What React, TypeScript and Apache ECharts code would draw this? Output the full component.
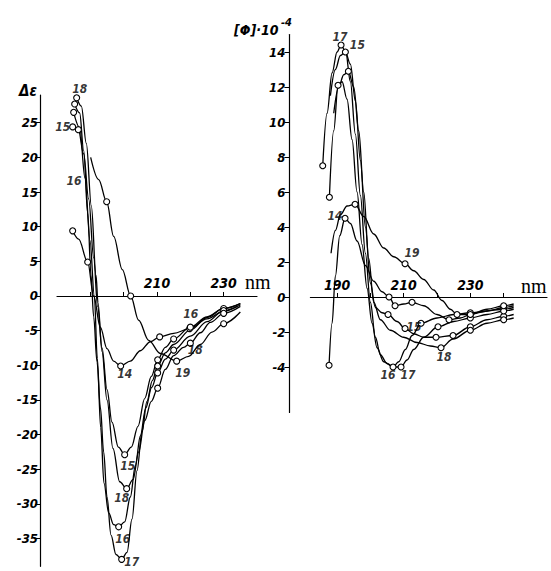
import React, { useEffect, useRef } from "react";
import * as echarts from "echarts";

// ---- tick values ----
const LEFT_Y_TICKS = [-35, -30, -25, -20, -15, -10, -5, 0, 5, 10, 15, 20, 25];
const RIGHT_Y_TICKS = [-4, -2, 0, 2, 4, 6, 8, 10, 12, 14];
const LEFT_X_TICKS = [190, 200, 210, 220, 230];
const LEFT_X_LABELS = [210, 230];
const RIGHT_X_TICKS = [190, 200, 210, 220, 230, 240];
const RIGHT_X_LABELS = [190, 210, 230];

// ---- left panel: Δε vs wavelength (nm); [x, y, circle] ----
const left14 = [
  [184.7, 9.4, 1], [186.5, 8.2, 0], [189.2, 4.9, 1], [191.0, 0.0, 0], [193.0, -4.5, 0],
  [195.0, -7.6, 0], [197.0, -9.4, 0], [199.1, -10.1, 1], [202.0, -9.4, 0], [205.0, -7.9, 0],
  [208.0, -6.6, 0], [210.8, -5.9, 1], [215.0, -5.4, 0], [219.8, -4.7, 1], [225.0, -3.3, 0],
  [230.0, -2.2, 0], [234.0, -1.5, 0],
];
const left15 = [
  [184.7, 24.4, 1], [186.4, 24.0, 1], [188.0, 20.5, 0], [189.5, 14.0, 0], [191.0, 5.5, 0],
  [192.2, -1.5, 0], [193.5, -7.5, 0], [195.0, -13.5, 0], [196.5, -18.2, 0], [198.4, -21.8, 0],
  [200.3, -22.9, 1], [202.3, -21.8, 0], [204.3, -18.8, 0], [206.3, -14.8, 0], [208.3, -11.6, 0],
  [210.2, -9.2, 1], [212.5, -7.4, 0], [215.0, -6.2, 1], [220.0, -4.5, 1], [225.0, -3.0, 0],
  [230.0, -1.8, 1], [235.0, -1.1, 0],
];
const left16 = [
  [185.0, 26.5, 1], [186.8, 24.3, 0], [188.4, 17.0, 0], [189.9, 8.0, 0], [191.2, 0.0, 0],
  [192.1, -9.0, 0], [193.1, -19.0, 0], [194.1, -27.0, 0], [195.5, -31.3, 0], [197.0, -33.0, 0],
  [198.5, -33.3, 1], [200.3, -32.6, 0], [202.0, -29.0, 0], [203.5, -24.5, 0], [205.0, -20.2, 0],
  [206.6, -16.2, 0], [208.4, -13.2, 0], [210.2, -11.1, 1], [212.5, -9.1, 0], [215.0, -7.8, 1],
  [220.0, -5.8, 0], [225.0, -3.7, 0], [230.0, -2.1, 1], [235.0, -1.3, 0],
];
const left17 = [
  [185.3, 27.7, 1], [186.8, 26.4, 0], [188.0, 21.0, 0], [189.2, 12.0, 0], [190.2, 3.0, 0],
  [191.0, -3.0, 0], [192.0, -9.5, 0], [193.0, -16.0, 0], [194.0, -22.5, 0], [195.0, -29.0, 0],
  [196.2, -34.5, 0], [197.7, -37.3, 0], [199.4, -38.0, 1], [201.0, -37.0, 0], [202.5, -32.2, 0],
  [204.0, -25.2, 0], [205.5, -19.6, 0], [207.0, -15.2, 0], [208.6, -12.2, 0], [210.2, -10.1, 1],
  [212.5, -8.2, 0], [215.0, -7.0, 0], [220.0, -4.9, 0], [225.0, -3.1, 0], [230.0, -1.8, 0],
  [235.0, -1.1, 0],
];
const left18 = [
  [185.9, 28.6, 1], [187.3, 27.4, 0], [188.8, 22.0, 0], [190.3, 13.0, 0], [191.7, 3.0, 0],
  [192.3, -1.0, 0], [193.5, -8.0, 0], [195.0, -15.0, 0], [196.8, -22.0, 0], [198.8, -26.8, 0],
  [200.9, -27.8, 1], [202.8, -26.5, 0], [204.5, -22.5, 0], [206.3, -18.0, 0], [208.3, -15.2, 0],
  [210.2, -13.3, 1], [212.5, -10.6, 0], [215.0, -8.6, 0], [218.0, -7.4, 0], [220.0, -6.8, 1],
  [223.0, -5.3, 0], [226.0, -3.8, 0], [230.0, -2.5, 1], [235.0, -1.5, 0],
];
const left19 = [
  [190.1, 20.0, 0], [192.5, 16.8, 0], [194.9, 13.6, 1], [197.0, 8.6, 0], [199.6, 3.8, 0],
  [202.1, 0.0, 1], [204.5, -3.5, 0], [207.5, -6.4, 0], [211.0, -8.3, 0], [215.9, -9.4, 1],
  [219.5, -8.7, 0], [223.0, -7.0, 0], [226.5, -5.2, 0], [230.0, -4.0, 1], [235.0, -2.3, 0],
];

// ---- right panel: [Φ]·10^-4 vs wavelength (nm) ----
const right14 = [
  [187.6, -3.9, 1], [188.5, -1.5, 0], [189.5, 1.2, 0], [190.8, 3.5, 0], [192.4, 4.5, 1],
  [194.0, 4.2, 0], [196.0, 3.2, 0], [198.5, 1.8, 0], [201.0, 0.9, 0], [203.5, 0.3, 0],
  [205.6, 0.0, 1], [207.4, -0.5, 1], [210.0, -0.4, 0], [212.5, -0.3, 1], [216.0, -0.5, 0],
  [220.0, -1.0, 0], [223.6, -1.3, 1], [227.0, -1.2, 0], [230.0, -1.0, 1], [235.0, -0.8, 0],
  [240.0, -0.6, 1], [243.0, -0.5, 0],
];
const right15 = [
  [188.0, 11.5, 0], [189.5, 13.0, 0], [191.0, 13.8, 0], [192.5, 14.0, 1], [194.0, 13.3, 0],
  [195.5, 11.2, 0], [197.0, 7.8, 0], [198.5, 4.0, 0], [200.0, 0.8, 0], [201.5, -0.6, 0],
  [203.5, -0.9, 0], [205.3, -1.0, 1], [208.0, -1.4, 0], [210.4, -1.8, 1], [213.0, -2.1, 0],
  [216.0, -2.3, 0], [219.7, -2.3, 1], [224.8, -2.2, 1], [230.0, -1.7, 1], [235.0, -1.3, 0],
  [240.0, -1.1, 1], [243.0, -1.0, 0],
];
const right16 = [
  [187.7, 5.7, 1], [189.0, 9.5, 0], [190.3, 12.1, 1], [191.5, 12.3, 0], [193.0, 11.3, 0],
  [194.5, 9.0, 0], [196.0, 6.0, 0], [197.5, 3.0, 0], [199.0, 0.5, 0], [200.5, -1.5, 0],
  [202.0, -2.9, 0], [204.0, -3.7, 0], [206.8, -4.0, 1], [208.5, -3.7, 0], [210.5, -3.0, 0],
  [212.5, -2.2, 0], [215.2, -1.5, 1], [220.0, -1.2, 0], [225.0, -1.0, 0], [230.0, -0.9, 1],
  [240.0, -0.7, 1], [243.0, -0.6, 0],
];
const right17 = [
  [185.7, 7.5, 1], [187.0, 10.5, 0], [188.5, 12.8, 0], [190.0, 14.0, 0], [191.2, 14.4, 1],
  [192.6, 14.0, 0], [194.0, 12.3, 0], [195.5, 9.3, 0], [197.0, 5.8, 0], [198.5, 2.5, 0],
  [200.0, -0.3, 0], [201.5, -2.3, 0], [203.0, -3.3, 0], [205.0, -3.8, 0], [207.0, -4.0, 0],
  [209.2, -4.0, 1], [211.0, -3.6, 0], [213.0, -3.0, 0], [216.0, -2.3, 0], [220.3, -1.7, 1],
  [225.0, -1.4, 0], [230.0, -1.2, 1], [235.0, -1.0, 0], [240.0, -0.8, 1], [243.0, -0.7, 0],
];
const right18 = [
  [189.0, 10.5, 0], [190.5, 12.0, 0], [192.0, 12.7, 0], [193.4, 12.9, 1], [195.0, 12.0, 0],
  [196.5, 9.5, 0], [198.0, 6.0, 0], [199.5, 2.2, 0], [201.0, -0.3, 0], [203.0, -1.3, 0],
  [206.0, -1.9, 0], [210.0, -2.3, 0], [214.0, -2.6, 0], [218.0, -2.8, 0], [221.2, -2.9, 1],
  [224.8, -2.4, 0], [230.0, -1.9, 1], [235.0, -1.5, 0], [240.0, -1.3, 1], [243.0, -1.2, 0],
];
const right19 = [
  [188.2, 2.5, 0], [189.5, 3.8, 0], [191.0, 4.7, 0], [193.0, 5.2, 0], [195.4, 5.3, 1],
  [198.0, 4.6, 0], [201.0, 3.6, 0], [204.0, 2.8, 0], [207.0, 2.3, 0], [210.4, 1.9, 1],
  [213.0, 1.5, 0], [216.0, 1.0, 0], [219.0, 0.4, 0], [221.5, -0.2, 0], [224.0, -0.7, 0],
  [226.0, -1.0, 1], [230.0, -1.0, 1], [235.0, -0.7, 0], [240.0, -0.5, 1], [243.0, -0.4, 0],
];

const LEFT_CURVES: Record<string, number[][]> = {
  l14: left14, l15: left15, l16: left16, l17: left17, l18: left18, l19: left19,
};
const RIGHT_CURVES: Record<string, number[][]> = {
  r14: right14, r15: right15, r16: right16, r17: right17, r18: right18, r19: right19,
};

// curve number labels: [curve, point index, text, dx, dy]
const LEFT_LABELS: [string, number, string, number, number][] = [
  ["l18", 0, "18", 3, -9],
  ["l15", 0, "15", -10, 0],
  ["l16", 2, "16", -11, 3],
  ["l14", 7, "14", 4, 8],
  ["l15", 10, "15", 3, 11],
  ["l18", 10, "18", -5, 9],
  ["l16", 10, "16", 4, 12],
  ["l17", 12, "17", 10, 3],
  ["l19", 9, "19", 6, 12],
  ["l14", 13, "16", 1, -15],
  ["l18", 19, "18", 5, 7],
];
const RIGHT_LABELS: [string, number, string, number, number][] = [
  ["r17", 4, "17", -1, -8],
  ["r15", 3, "15", 12, -7],
  ["r14", 4, "14", -10, -2],
  ["r19", 9, "19", 7, -11],
  ["r15", 13, "15", 9, -2],
  ["r18", 14, "18", 3, 9],
  ["r16", 12, "16", -5, 8],
  ["r17", 15, "17", 7, 8],
];

const NARROW = "'Liberation Sans Narrow', 'DejaVu Sans Condensed', 'Liberation Sans', sans-serif";
const SERIF = "'Liberation Serif', 'DejaVu Serif', serif";

// layout (pixels)
const L_GRID = { left: 57, top: 95, width: 200, height: 471.3 };
const R_GRID = { left: 310.4, top: 34.5, width: 236.6, height: 378 };
const L_YMIN = -39, L_YMAX = 29;
const R_YMIN = -6.6, R_YMAX = 15;

function lineSeries(name: string, data: number[][], gi: number) {
  return {
    type: "line",
    name,
    xAxisIndex: gi,
    yAxisIndex: gi,
    smooth: 0.35,
    smoothMonotone: "x",
    showAllSymbol: true,
    symbol: "circle",
    symbolSize: 6,
    lineStyle: { color: "#000", width: 1.3 },
    itemStyle: { color: "#fff", borderColor: "#000", borderWidth: 1.1 },
    emphasis: { disabled: true },
    z: 3,
    data: data.map((p) => ({ value: [p[0], p[1]], symbol: p[2] ? "circle" : "none" })),
  };
}

function labelSeries(curves: Record<string, number[][]>, labels: [string, number, string, number, number][], gi: number) {
  return {
    type: "scatter",
    xAxisIndex: gi,
    yAxisIndex: gi,
    symbolSize: 0,
    silent: true,
    z: 5,
    label: {
      show: true,
      position: "inside",
      color: "#000",
      fontFamily: NARROW,
      fontStyle: "italic",
      fontWeight: "bold",
      fontSize: 12,
    },
    data: labels.map(([c, i, t, dx, dy]) => ({
      value: [curves[c][i][0], curves[c][i][1]],
      label: { formatter: t, offset: [dx, dy] },
    })),
  };
}

const tickFont = {
  color: "#000",
  fontFamily: NARROW,
  fontStyle: "italic",
  fontWeight: "bold",
};

export default function App() {
  const ref = useRef<HTMLDivElement>(null);
  useEffect(() => {
    if (!ref.current) return;
    const chart = echarts.init(ref.current, undefined, { renderer: "svg" });
    // distance from grid bottom up to the zero line
    const lZeroOff = -(L_GRID.height * (0 - L_YMIN)) / (L_YMAX - L_YMIN);
    const rZeroOff = -(R_GRID.height * (0 - R_YMIN)) / (R_YMAX - R_YMIN);
    const xLine = { onZero: false, lineStyle: { color: "#000", width: 1.2 } };
    const option: any = {
      animation: false,
      backgroundColor: "#fff",
      grid: [L_GRID, R_GRID],
      xAxis: [
        {
          type: "value", gridIndex: 0, min: 180, max: 240, offset: lZeroOff,
          axisLine: xLine, splitLine: { show: false },
          axisTick: { inside: true, length: 4, customValues: LEFT_X_TICKS, lineStyle: { color: "#000" } },
          axisLabel: { inside: true, margin: 6, customValues: LEFT_X_LABELS, fontSize: 14, ...tickFont },
        },
        {
          type: "value", gridIndex: 1, min: 182, max: 253, offset: rZeroOff,
          axisLine: xLine, splitLine: { show: false },
          axisTick: { inside: true, length: 4, customValues: RIGHT_X_TICKS, lineStyle: { color: "#000" } },
          axisLabel: { inside: true, margin: 5, customValues: RIGHT_X_LABELS, fontSize: 14, ...tickFont },
        },
      ],
      yAxis: [
        {
          type: "value", gridIndex: 0, min: L_YMIN, max: L_YMAX, offset: 17,
          axisLine: { show: true, onZero: false, lineStyle: { color: "#000", width: 1.2 } },
          splitLine: { show: false },
          axisTick: { show: true, length: 5, customValues: LEFT_Y_TICKS, lineStyle: { color: "#000" } },
          axisLabel: { margin: 2, customValues: LEFT_Y_TICKS, fontSize: 13, ...tickFont },
        },
        {
          type: "value", gridIndex: 1, min: R_YMIN, max: R_YMAX, offset: 21,
          axisLine: { show: true, onZero: false, lineStyle: { color: "#000", width: 1.2 } },
          splitLine: { show: false },
          axisTick: { show: true, length: 5, customValues: RIGHT_Y_TICKS, lineStyle: { color: "#000" } },
          axisLabel: { margin: 4, customValues: RIGHT_Y_TICKS, fontSize: 13, ...tickFont },
        },
      ],
      graphic: [
        { type: "text", left: 19, top: 83, style: { text: "Δε", font: `italic bold 15px ${NARROW}`, fill: "#000" } },
        { type: "text", left: 234, top: 23, style: { text: "[Φ]·10", font: `italic bold 14px ${NARROW}`, fill: "#000" } },
        { type: "text", left: 281, top: 17, style: { text: "-4", font: `italic bold 11px ${NARROW}`, fill: "#000" } },
        { type: "text", left: 245, top: 272, style: { text: "nm", font: `20px ${SERIF}`, fill: "#000" } },
        { type: "text", left: 521, top: 276, style: { text: "nm", font: `20px ${SERIF}`, fill: "#000" } },
      ],
      series: [
        ...Object.entries(LEFT_CURVES).map(([n, d]) => lineSeries(n, d, 0)),
        ...Object.entries(RIGHT_CURVES).map(([n, d]) => lineSeries(n, d, 1)),
        labelSeries(LEFT_CURVES, LEFT_LABELS, 0),
        labelSeries(RIGHT_CURVES, RIGHT_LABELS, 1),
      ],
    };
    chart.setOption(option);
    return () => chart.dispose();
  }, []);
  return (
    <div
      ref={ref}
      style={{ position: "fixed", left: 0, top: 0, width: 551, height: 571, background: "#fff" }}
    />
  );
}
